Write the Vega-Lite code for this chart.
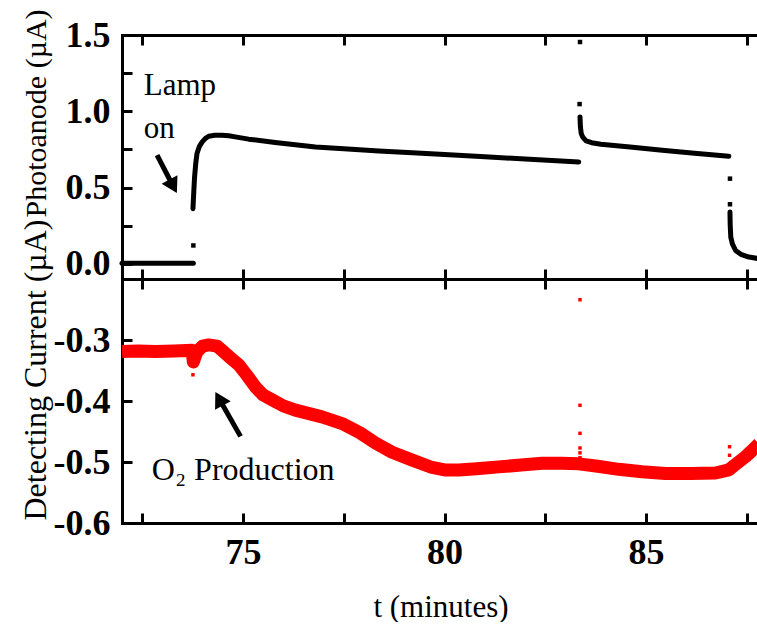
{
  "$schema": "https://vega.github.io/schema/vega-lite/v6.json",
  "padding": {"left": 18, "top": 8, "right": 0, "bottom": 0},
  "background": "white",
  "spacing": 0,
  "bounds": "flush",
  "config": {
    "view": {"stroke": null},
    "font": "Liberation Serif",
    "axis": {
      "grid": false,
      "domainColor": "black",
      "domainWidth": 3,
      "domainCap": "square",
      "tickColor": "black",
      "tickWidth": 3,
      "tickSize": -10,
      "labelFont": "Liberation Serif",
      "labelFontWeight": "bold",
      "labelFontSize": 36,
      "labelColor": "black",
      "labelOverlap": false,
      "labelBound": false,
      "labelFlush": false,
      "titleFont": "Liberation Serif",
      "titleFontWeight": "normal",
      "titleFontSize": 30,
      "titleColor": "black"
    }
  },
  "resolve": {"scale": {"x": "independent", "y": "independent"}},
  "vconcat": [
    {
      "width": 637,
      "height": 244,
      "layer": [
        {
          "data": {"values": [
            {"t": 72.0, "v": 0.003, "seg": 1}, {"t": 73.77, "v": 0.003, "seg": 1},
            {"t": 73.76, "v": 0.361, "seg": 2}, {"t": 73.78, "v": 0.47, "seg": 2}, {"t": 73.8, "v": 0.569, "seg": 2}, {"t": 73.83, "v": 0.66, "seg": 2}, {"t": 73.86, "v": 0.723, "seg": 2}, {"t": 73.92, "v": 0.77, "seg": 2}, {"t": 73.99, "v": 0.799, "seg": 2}, {"t": 74.07, "v": 0.822, "seg": 2}, {"t": 74.15, "v": 0.836, "seg": 2}, {"t": 74.3, "v": 0.842, "seg": 2}, {"t": 74.48, "v": 0.843, "seg": 2}, {"t": 74.65, "v": 0.839, "seg": 2}, {"t": 74.81, "v": 0.832, "seg": 2}, {"t": 75.14, "v": 0.817, "seg": 2}, {"t": 75.8, "v": 0.795, "seg": 2}, {"t": 76.8, "v": 0.766, "seg": 2}, {"t": 77.6, "v": 0.752, "seg": 2}, {"t": 78.37, "v": 0.74, "seg": 2}, {"t": 79.2, "v": 0.728, "seg": 2}, {"t": 80.0, "v": 0.716, "seg": 2}, {"t": 81.0, "v": 0.701, "seg": 2}, {"t": 82.0, "v": 0.687, "seg": 2}, {"t": 83.33, "v": 0.668, "seg": 2},
            {"t": 83.36, "v": 0.963, "seg": 3}, {"t": 83.37, "v": 0.9, "seg": 3}, {"t": 83.39, "v": 0.854, "seg": 3}, {"t": 83.43, "v": 0.83, "seg": 3}, {"t": 83.51, "v": 0.806, "seg": 3}, {"t": 83.65, "v": 0.794, "seg": 3}, {"t": 83.88, "v": 0.784, "seg": 3}, {"t": 84.6, "v": 0.765, "seg": 3}, {"t": 85.4, "v": 0.744, "seg": 3}, {"t": 86.2, "v": 0.725, "seg": 3}, {"t": 87.05, "v": 0.705, "seg": 3},
            {"t": 87.08, "v": 0.339, "seg": 4}, {"t": 87.085, "v": 0.26, "seg": 4}, {"t": 87.1, "v": 0.175, "seg": 4}, {"t": 87.14, "v": 0.13, "seg": 4}, {"t": 87.22, "v": 0.087, "seg": 4}, {"t": 87.35, "v": 0.062, "seg": 4}, {"t": 87.55, "v": 0.044, "seg": 4}, {"t": 87.8, "v": 0.033, "seg": 4}
          ]},
          "mark": {"type": "line", "color": "black", "strokeWidth": 5, "strokeCap": "round", "strokeJoin": "round"},
          "encoding": {
            "x": {"field": "t", "type": "quantitative", "scale": {"domain": [72, 87.8], "nice": false, "zero": false},
              "axis": {"orient": "bottom", "title": null, "labels": false, "values": [72.5, 75, 77.5, 80, 82.5, 85, 87.5],
                "encode": {"ticks": {"update": {"y2": {"signal": "datum.value % 5 != 0 ? -5 : -10"}}}}}},
            "y": {"field": "v", "type": "quantitative", "scale": {"domain": [-0.1, 1.5], "nice": false, "zero": false},
              "axis": {"orient": "left", "title": "Photoanode (µA)", "values": [0, 0.25, 0.5, 0.75, 1, 1.25, 1.5],
                "labelExpr": "abs(datum.value*2 - round(datum.value*2)) < 0.01 ? format(datum.value, '.1f') : ''",
                "labelPadding": 22, "labelBaseline": "middle",
                "encode": {"ticks": {"update": {"x2": {"signal": "abs(datum.value*2 - round(datum.value*2)) > 0.01 ? 5 : 10"}}}},
                "titleX": -77, "titleY": 182, "titleAngle": -90, "titleAlign": "left", "titleBaseline": "alphabetic"}},
            "detail": {"field": "seg"}
          }
        },
        {
          "data": {"values": [
            {"t": 73.77, "v": 0.12}, {"t": 83.35, "v": 1.047}, {"t": 83.36, "v": 1.454}, {"t": 87.08, "v": 0.558}, {"t": 87.08, "v": 0.39}
          ]},
          "mark": {"type": "point", "shape": "square", "filled": true, "color": "black", "size": 20, "opacity": 1},
          "encoding": {
            "x": {"field": "t", "type": "quantitative", "scale": {"domain": [72, 87.8], "nice": false, "zero": false},
              "axis": {"orient": "top", "title": null, "labels": false, "values": [72.5, 75, 77.5, 80, 82.5, 85, 87.5],
                "encode": {"ticks": {"update": {"y2": {"signal": "datum.value % 5 != 0 ? 5 : 10"}}}}}},
            "y": {"field": "v", "type": "quantitative", "scale": {"domain": [-0.1, 1.5], "nice": false, "zero": false}}
          }
        },
        {
          "data": {"values": [
            {"t": 72.54, "v": 1.106, "label": "Lamp"}, {"t": 72.54, "v": 0.823, "label": "on"}
          ]},
          "mark": {"type": "text", "font": "Liberation Serif", "fontSize": 31, "align": "left", "baseline": "alphabetic", "color": "black"},
          "encoding": {
            "x": {"field": "t", "type": "quantitative", "scale": {"domain": [72, 87.8], "nice": false, "zero": false}, "axis": null},
            "y": {"field": "v", "type": "quantitative", "scale": {"domain": [-0.1, 1.5], "nice": false, "zero": false}},
            "text": {"field": "label"}
          }
        },
        {
          "data": {"values": [{"t": 72.87, "v": 0.712, "t2": 73.24, "v2": 0.523}]},
          "mark": {"type": "rule", "color": "black", "strokeWidth": 5},
          "encoding": {
            "x": {"field": "t", "type": "quantitative", "scale": {"domain": [72, 87.8], "nice": false, "zero": false}, "axis": null},
            "y": {"field": "v", "type": "quantitative", "scale": {"domain": [-0.1, 1.5], "nice": false, "zero": false}},
            "x2": {"field": "t2"},
            "y2": {"field": "v2"}
          }
        },
        {
          "data": {"values": [{"t": 73.24, "v": 0.523}]},
          "mark": {"type": "point", "shape": "triangle", "filled": true, "color": "black", "size": 320, "angle": 152, "opacity": 1},
          "encoding": {
            "x": {"field": "t", "type": "quantitative", "scale": {"domain": [72, 87.8], "nice": false, "zero": false}, "axis": null},
            "y": {"field": "v", "type": "quantitative", "scale": {"domain": [-0.1, 1.5], "nice": false, "zero": false}}
          }
        }
      ]
    },
    {
      "width": 637,
      "height": 244,
      "layer": [
        {
          "data": {"values": [
            {"t": 72.0, "v": -0.319}, {"t": 72.4, "v": -0.318}, {"t": 72.83, "v": -0.319}, {"t": 73.3, "v": -0.318}, {"t": 73.74, "v": -0.317}, {"t": 73.77, "v": -0.336}, {"t": 73.86, "v": -0.319}, {"t": 74.0, "v": -0.31}, {"t": 74.15, "v": -0.308}, {"t": 74.36, "v": -0.31}, {"t": 74.65, "v": -0.327}, {"t": 74.9, "v": -0.341}, {"t": 75.1, "v": -0.358}, {"t": 75.31, "v": -0.377}, {"t": 75.5, "v": -0.39}, {"t": 75.72, "v": -0.398}, {"t": 76.0, "v": -0.408}, {"t": 76.3, "v": -0.415}, {"t": 76.96, "v": -0.426}, {"t": 77.46, "v": -0.437}, {"t": 77.9, "v": -0.452}, {"t": 78.29, "v": -0.469}, {"t": 78.7, "v": -0.484}, {"t": 79.2, "v": -0.497}, {"t": 79.69, "v": -0.509}, {"t": 80.0, "v": -0.513}, {"t": 80.35, "v": -0.513}, {"t": 80.8, "v": -0.511}, {"t": 81.34, "v": -0.508}, {"t": 81.9, "v": -0.505}, {"t": 82.42, "v": -0.502}, {"t": 82.9, "v": -0.502}, {"t": 83.33, "v": -0.503}, {"t": 83.8, "v": -0.507}, {"t": 84.32, "v": -0.512}, {"t": 84.9, "v": -0.516}, {"t": 85.48, "v": -0.519}, {"t": 86.1, "v": -0.519}, {"t": 86.72, "v": -0.518}, {"t": 87.05, "v": -0.513}, {"t": 87.2, "v": -0.505}, {"t": 87.47, "v": -0.491}, {"t": 87.6, "v": -0.483}, {"t": 87.8, "v": -0.47}
          ]},
          "mark": {"type": "line", "color": "#ff0000", "strokeWidth": 13, "strokeJoin": "round"},
          "encoding": {
            "x": {"field": "t", "type": "quantitative", "scale": {"domain": [72, 87.8], "nice": false, "zero": false},
              "axis": {"orient": "bottom", "title": "t (minutes)", "values": [72.5, 75, 77.5, 80, 82.5, 85, 87.5],
                "labelExpr": "datum.value % 5 == 0 ? format(datum.value, 'd') : ''",
                "labelPadding": 22, "labelBaseline": "top",
                "encode": {"ticks": {"update": {"y2": {"signal": "datum.value % 5 != 0 ? -5 : -10"}}}},
                "titleFontSize": 31, "titleY": 93, "titleBaseline": "alphabetic"}},
            "y": {"field": "v", "type": "quantitative", "scale": {"domain": [-0.6, -0.2], "nice": false, "zero": false},
              "axis": {"orient": "left", "title": "Detecting Current (µA)", "values": [-0.6, -0.55, -0.5, -0.45, -0.4, -0.35, -0.3, -0.25],
                "labelExpr": "abs(datum.value*10 - round(datum.value*10)) < 0.01 ? '-' + format(abs(datum.value), '.1f') : ''",
                "labelPadding": 22, "labelBaseline": "middle",
                "encode": {"ticks": {"update": {"x2": {"signal": "abs(datum.value*10 - round(datum.value*10)) > 0.01 ? 5 : 10"}}}},
                "titleFontSize": 32, "titleX": -77, "titleY": -60, "titleAngle": -90, "titleAlign": "right", "titleBaseline": "alphabetic"}}
          }
        },
        {
          "data": {"values": [
            {"t": 73.76, "v": -0.357}, {"t": 83.36, "v": -0.234}, {"t": 83.36, "v": -0.407}, {"t": 83.36, "v": -0.453}, {"t": 83.36, "v": -0.477}, {"t": 83.36, "v": -0.485}, {"t": 83.36, "v": -0.493}, {"t": 87.07, "v": -0.475}, {"t": 87.07, "v": -0.489}
          ]},
          "mark": {"type": "point", "shape": "square", "filled": true, "color": "#ff0000", "size": 12, "opacity": 1},
          "encoding": {
            "x": {"field": "t", "type": "quantitative", "scale": {"domain": [72, 87.8], "nice": false, "zero": false},
              "axis": {"orient": "top", "title": null, "labels": false, "values": [72.5, 75, 77.5, 80, 82.5, 85, 87.5],
                "encode": {"ticks": {"update": {"y2": {"signal": "datum.value % 5 != 0 ? 5 : 10"}}}}}},
            "y": {"field": "v", "type": "quantitative", "scale": {"domain": [-0.6, -0.2], "nice": false, "zero": false}}
          }
        },
        {
          "data": {"values": [{"t": 72.74, "v": -0.5295, "label": "O₂ Production"}]},
          "mark": {"type": "text", "font": "Liberation Serif", "fontSize": 32, "align": "left", "baseline": "alphabetic", "color": "black"},
          "encoding": {
            "x": {"field": "t", "type": "quantitative", "scale": {"domain": [72, 87.8], "nice": false, "zero": false}, "axis": null},
            "y": {"field": "v", "type": "quantitative", "scale": {"domain": [-0.6, -0.2], "nice": false, "zero": false}},
            "text": {"field": "label"}
          }
        },
        {
          "data": {"values": [{"t": 74.94, "v": -0.458, "t2": 74.44, "v2": -0.4}]},
          "mark": {"type": "rule", "color": "black", "strokeWidth": 5},
          "encoding": {
            "x": {"field": "t", "type": "quantitative", "scale": {"domain": [72, 87.8], "nice": false, "zero": false}, "axis": null},
            "y": {"field": "v", "type": "quantitative", "scale": {"domain": [-0.6, -0.2], "nice": false, "zero": false}},
            "x2": {"field": "t2"},
            "y2": {"field": "v2"}
          }
        },
        {
          "data": {"values": [{"t": 74.44, "v": -0.4}]},
          "mark": {"type": "point", "shape": "triangle", "filled": true, "color": "black", "size": 320, "angle": 331, "opacity": 1},
          "encoding": {
            "x": {"field": "t", "type": "quantitative", "scale": {"domain": [72, 87.8], "nice": false, "zero": false}, "axis": null},
            "y": {"field": "v", "type": "quantitative", "scale": {"domain": [-0.6, -0.2], "nice": false, "zero": false}}
          }
        }
      ]
    }
  ]
}
